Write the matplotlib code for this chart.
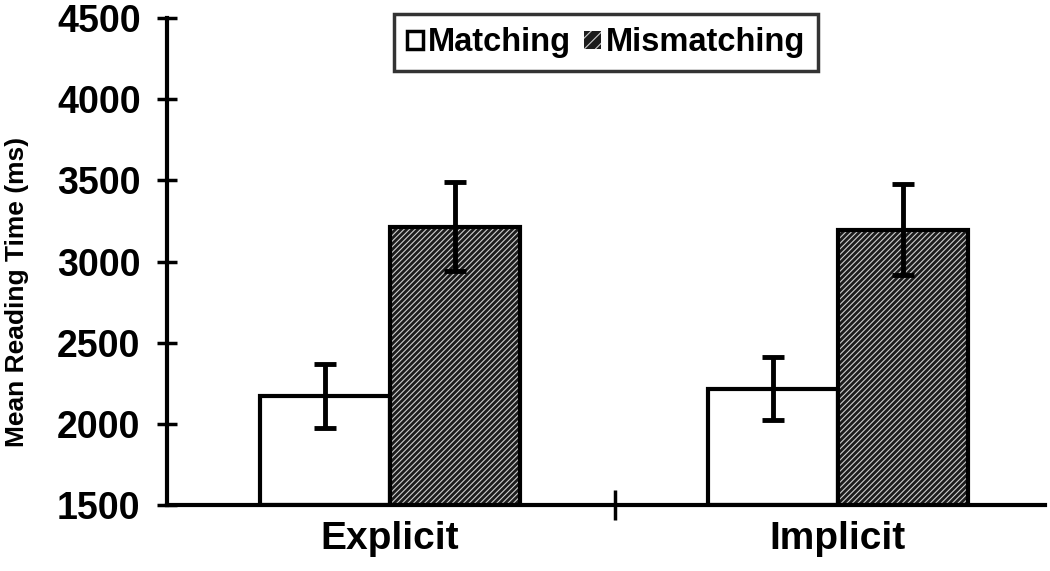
import numpy as np
import matplotlib
matplotlib.use('Agg')
import matplotlib.pyplot as plt
from matplotlib.patches import Patch

plt.rcParams['font.family'] = ['Liberation Sans', 'DejaVu Sans']
plt.rcParams['font.weight'] = 'bold'
plt.rcParams['hatch.linewidth'] = 0.8

conditions = ['Explicit', 'Implicit']
matching = [2170, 2215]
matching_err = [195, 195]
mismatching = [3215, 3195]
mismatching_err = [275, 280]

fig = plt.figure(figsize=(10.5, 5.71), dpi=100)
ax = fig.add_axes([0.159, 0.116, 0.836, 0.852])

x = np.arange(len(conditions))
w = 0.29

# matching: plain white bars
ax.bar(x - w / 2, np.array(matching) - 1500, w, bottom=1500, color='white',
       edgecolor='black', linewidth=3, zorder=2)
# mismatching: dark hatched fill, then black outline
ax.bar(x + w / 2, np.array(mismatching) - 1500, w, bottom=1500, color='#1c1c1c',
       edgecolor='#cfcfcf', hatch='//////', linewidth=0, zorder=2)
ax.bar(x + w / 2, np.array(mismatching) - 1500, w, bottom=1500, fill=False,
       edgecolor='black', linewidth=3, zorder=3)

ax.errorbar(x - w / 2, matching, yerr=matching_err, fmt='none', ecolor='black',
            elinewidth=3.5, capsize=8, capthick=3.5, zorder=4)
ax.errorbar(x + w / 2, mismatching, yerr=mismatching_err, fmt='none', ecolor='black',
            elinewidth=3.5, capsize=8, capthick=3.5, zorder=4)

ax.set_xlim(-0.498, 1.462)
ax.set_ylim(1500, 4500)
ax.set_yticks(np.arange(1500, 4501, 500))
ax.set_xticks(x)
ax.set_xticklabels(conditions, fontsize=28, fontweight='bold')
ax.set_xticks([0.502], minor=True)
ax.tick_params(axis='x', which='major', length=0, pad=12)
ax.tick_params(axis='x', which='minor', direction='inout', length=22, width=2.5)
ax.tick_params(axis='y', direction='inout', length=14, width=2.5, labelsize=27, pad=12)
for lab in ax.get_yticklabels():
    lab.set_fontweight('bold')

for s in ['top', 'right']:
    ax.spines[s].set_visible(False)
for s in ['left', 'bottom']:
    ax.spines[s].set_linewidth(3)

ax.set_ylabel('Mean Reading Time (ms)', fontsize=19, fontweight='bold')
ax.yaxis.set_label_coords(-0.157, 0.437)

handles = [Patch(facecolor='white', edgecolor='black', linewidth=2.5),
           Patch(facecolor='#1c1c1c', edgecolor='#cfcfcf', hatch='///', linewidth=0)]
leg = ax.legend(handles, ['Matching', 'Mismatching'], loc='upper center',
                bbox_to_anchor=(0.5, 1.008), ncol=2, fontsize=23.5, frameon=True,
                fancybox=False, edgecolor='black', handlelength=0.5, handleheight=0.5,
                handletextpad=0.15, columnspacing=0.4, borderpad=0.4, borderaxespad=0)
leg.get_frame().set_linewidth(2.5)
for t in leg.get_texts():
    t.set_fontweight('bold')

fig.savefig('out.png', dpi=100)
